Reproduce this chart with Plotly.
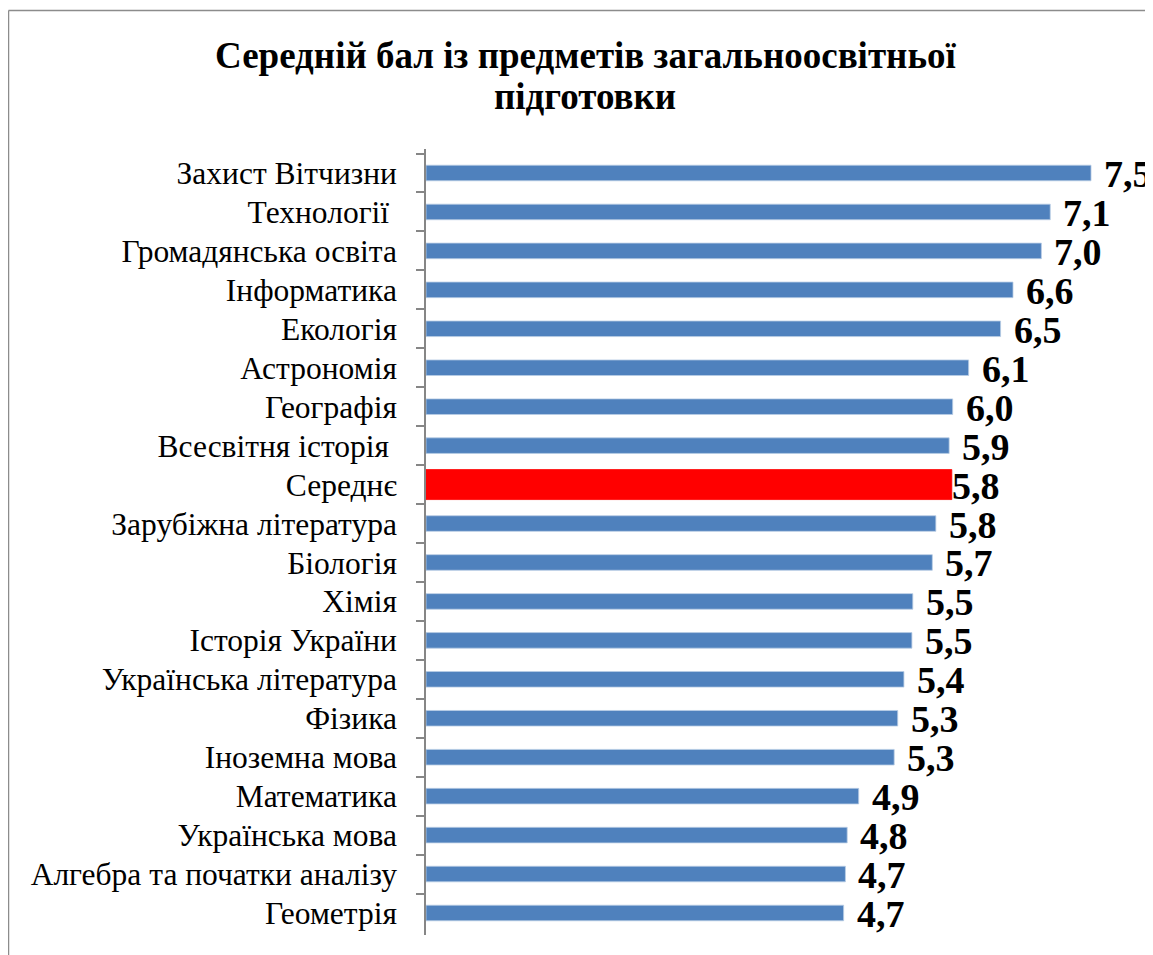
import plotly.graph_objects as go

# Subjects, top to bottom as in the chart
subjects = [
    "Захист Вітчизни", "Технології\u00a0", "Громадянська освіта", "Інформатика",
    "Екологія", "Астрономія", "Географія", "Всесвітня історія\u00a0", "Середнє",
    "Зарубіжна література", "Біологія", "Хімія", "Історія України",
    "Українська література", "Фізика", "Іноземна мова", "Математика",
    "Українська мова", "Алгебра та початки аналізу", "Геометрія",
]
# bar lengths as drawn
scores = [7.50, 7.04, 6.94, 6.62, 6.48, 6.12, 5.94, 5.90, 5.93, 5.75,
          5.71, 5.49, 5.48, 5.39, 5.32, 5.28, 4.88, 4.75, 4.73, 4.71]
# printed labels
score_labels = ["7,5", "7,1", "7,0", "6,6", "6,5", "6,1", "6,0", "5,9", "5,8", "5,8",
                "5,7", "5,5", "5,5", "5,4", "5,3", "5,3", "4,9", "4,8", "4,7", "4,7"]
average_name = "Середнє"

# page body has an 8px margin, so the figure is 8px smaller and shifted
W, H = 1145, 947
L, T, B = 418, 141, 20
plot_w = W - L
plot_h = H - T - B
SERIF = "Liberation Serif, Times New Roman, serif"

colors = ["#FF0000" if s == average_name else "#4F81BD" for s in subjects]
widths = [0.77 if s == average_name else 0.40 for s in subjects]
lines = ["#FF0000" if s == average_name else "#B9CDE5" for s in subjects]

fig = go.Figure()
fig.add_trace(go.Bar(
    y=subjects, x=scores, orientation="h", width=widths,
    marker=dict(color=colors, line=dict(color=lines, width=0.8)),
    hoverinfo="skip",
))

# value labels
for s, v, lab in zip(subjects, scores, score_labels):
    fig.add_annotation(
        x=v, y=s, text=lab, showarrow=False, xanchor="left", yanchor="middle",
        xshift=-2 if s == average_name else 11, yshift=-1,
        font=dict(family=SERIF, size=38, color="black", weight="bold"),
    )

# title, two lines
title_font = dict(family=SERIF, size=37, color="black", weight="bold")
fig.add_annotation(xref="paper", yref="paper", x=(577 - L) / plot_w, y=(H - B - 48) / plot_h,
                   text="Середній бал із предметів загальноосвітньої", showarrow=False,
                   xanchor="center", yanchor="middle", font=title_font)
fig.add_annotation(xref="paper", yref="paper", x=(577 - L) / plot_w, y=(H - B - 89) / plot_h,
                   text="підготовки", showarrow=False,
                   xanchor="center", yanchor="middle", font=title_font)

# outer chart frame (cropped on right and bottom)
fx = (0.5 - L) / plot_w
fy = (H - B - 2.5) / plot_h
fig.add_shape(type="line", xref="paper", yref="paper", x0=fx, x1=2, y0=fy, y1=fy,
              line=dict(color="#8C8C8C", width=1.5))
fig.add_shape(type="line", xref="paper", yref="paper", x0=fx, x1=fx, y0=fy, y1=-1,
              line=dict(color="#8C8C8C", width=1.5))

fig.update_layout(
    width=W, height=H,
    margin=dict(l=L, r=0, t=T, b=B, pad=0),
    paper_bgcolor="white", plot_bgcolor="white",
    showlegend=False,
    xaxis=dict(range=[0, plot_w / 88.67], visible=False, fixedrange=True),
    yaxis=dict(
        autorange="reversed", type="category",
        showline=True, linecolor="#868686", linewidth=1.5,
        ticks="outside", tickson="boundaries", ticklen=8, tickcolor="#868686", tickwidth=1.5,
        ticklabelstandoff=21,
        tickfont=dict(family=SERIF, size=31.5, color="black"),
        showgrid=False, zeroline=False,
    ),
)

fig.write_html("out.html")
